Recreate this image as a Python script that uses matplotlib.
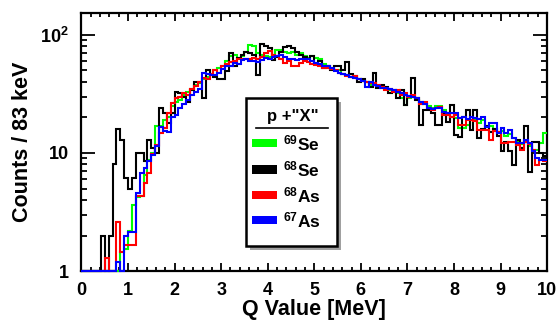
import numpy as np
import matplotlib
matplotlib.use("Agg")
import matplotlib.pyplot as plt
from matplotlib.patches import Rectangle
from matplotlib.lines import Line2D

plt.rcParams['font.family'] = ['Liberation Sans', 'DejaVu Sans']
plt.rcParams['font.weight'] = 'bold'
plt.rcParams['mathtext.fontset'] = 'custom'
plt.rcParams['mathtext.rm'] = 'Liberation Sans:bold'
plt.rcParams['mathtext.default'] = 'rm'

# 120 bins of 83 keV between 0 and 10 MeV
q_edges = np.linspace(0, 10, 121)

green_69se = [
    1, 1, 1, 1, 1, 1, 1, 1, 1, 1, 1.45, 1.55,
    2.2, 3.6, 4.2, 4.3, 6.5, 8.7, 10, 17, 17, 19, 20, 25,
    27, 28, 31, 33, 35, 38, 39, 42, 44, 47, 50, 52,
    54, 60, 66, 68, 64, 66, 72, 82, 80, 70, 68, 66,
    65, 68, 75, 74, 71, 70, 72, 68, 70, 66, 64, 66,
    64, 62, 57, 55, 52, 50, 50, 47, 46, 44, 43, 42,
    41, 40, 38, 38, 37, 36, 35, 34, 33, 32, 29, 25.6,
    29, 30, 29, 27, 26, 25, 24, 25, 25, 23, 22, 20,
    19.8, 16.2, 16.2, 17.3, 19, 19, 18, 19, 17, 17, 16, 15,
    15.5, 14, 14.5, 13.5, 12.5, 12, 12.5, 11.5, 10.6, 10.6, 12.2, 14.8,
]

black_68se = [
    1, 1, 1, 1, 1, 2, 1, 2, 8, 16, 12.9, 6.1,
    5.0, 6.1, 10, 10, 8.5, 13, 11, 10, 24, 22, 18, 22,
    33, 32, 30, 27, 34, 40, 40, 29, 50, 46, 44, 42,
    42, 49, 70, 55, 64, 68, 72, 70, 68, 46, 84, 80,
    78, 61, 65, 72, 79, 80, 78, 72, 68, 65, 63, 66,
    58, 60, 52, 55, 50, 54, 54, 50, 59, 47, 45, 40,
    42, 40, 36, 48, 35.5, 38, 36, 32, 34, 29, 34, 25.6,
    30, 43, 28, 17.3, 23, 23, 22, 17.3, 17.3, 21.8, 18.4, 25.6,
    14.2, 13.6, 20, 23, 15.6, 23, 13.4, 16, 17, 15, 16, 14,
    10.3, 12.5, 10.3, 7.9, 12.9, 11, 17, 6.9, 12.5, 12.5, 10, 9.5,
]

red_68as = [
    1, 1, 1, 1, 1, 1, 1.3, 1, 1, 2.6, 1.46, 1.66,
    1.66, 1.66, 4.3, 4.3, 5.6, 6.8, 9.8, 11.7, 14.8, 16.3, 21.8, 26.5,
    29, 30, 32, 31, 35, 37, 40, 43, 42, 47, 50, 48,
    55, 57, 59, 60, 62, 63, 63, 62, 64, 63, 65, 70,
    73, 68, 66, 62, 58, 60, 55, 54, 58, 60, 59, 57,
    56, 55, 52, 52, 51, 50, 48, 47, 45, 44, 45, 42,
    41, 40, 39, 39, 38, 36, 34, 35, 33, 34, 31, 32,
    30, 31, 29, 26, 27, 24, 23, 24, 24.7, 21, 21, 20,
    21, 17.3, 17.3, 19, 19.1, 18.5, 15.6, 15.6, 15.6, 12.9, 15.5, 15,
    12.2, 12.2, 12.5, 12.5, 11.7, 10.6, 12.5, 12, 10.6, 7.9, 8.7, 8.5,
]

blue_67as = [
    1, 1, 1, 1, 1, 1, 1, 1, 1, 1.2, 1, 2.0,
    2.15, 2.15, 4.6, 6.8, 7.5, 8.5, 9.7, 11.5, 16.5, 15.5, 15, 20,
    21, 24, 26, 28, 31, 33, 35, 48, 47, 46, 46, 48,
    51, 55, 54, 58, 57, 61, 62, 60, 60, 59, 61, 64,
    63, 65, 66, 67, 65, 62, 63, 61, 62, 63, 62, 60,
    58, 57, 55, 54, 52, 49, 48, 47, 46, 44, 43, 42,
    41, 36.5, 40, 38, 37, 35.5, 35.5, 35, 34, 33, 32, 31,
    30.5, 30, 29, 27, 26, 24, 23.5, 24, 24, 22.4, 22, 22,
    22, 19.8, 20, 19.5, 20, 19.8, 19.5, 20.3, 16.7, 18, 18, 14.8,
    16.2, 14.8, 15.6, 13.4, 12.2, 12.2, 12.9, 12.2, 10.3, 9.0, 8.7, 8.7,
]

series = [
    (green_69se, '#00ff00', '$^{69}$Se'),
    (black_68se, '#000000', '$^{68}$Se'),
    (red_68as, '#ff0000', '$^{68}$As'),
    (blue_67as, '#0000ff', '$^{67}$As'),
]

fig = plt.figure(figsize=(5.6, 3.27), dpi=100)
ax = fig.add_axes([0.1455, 0.171, 0.8315, 0.789])

for vals, col, lab in series:
    ax.stairs(vals, q_edges, baseline=None, color=col, lw=1.5,
              zorder=3, clip_on=False)

ax.set_yscale('log')
ax.set_xlim(0, 10)
ax.set_ylim(1, 153)
ax.set_xticks(range(11))
ax.set_xticks(np.arange(0, 10.01, 0.2), minor=True)
ax.set_yticks([1, 10, 100], ['1', '10', '$10^{2}$'])

for s in ax.spines.values():
    s.set_linewidth(1.6)
ax.tick_params(which='both', direction='in', top=True, right=True,
               width=1.3, labelsize=13)
ax.tick_params(axis='x', which='major', length=6, pad=8)
ax.tick_params(axis='x', which='minor', length=3)
ax.tick_params(axis='y', which='major', length=10, pad=9)
ax.tick_params(axis='y', which='minor', length=4.5)
ax.yaxis.set_minor_formatter(matplotlib.ticker.NullFormatter())

ax.set_xlabel('Q Value [MeV]', fontsize=15.5, fontweight='bold', labelpad=0)
ax.set_ylabel('Counts / 83 keV', fontsize=15.5, fontweight='bold', labelpad=5)

# hand-made ROOT style legend box with shadow
tr = ax.transAxes
ax.add_patch(Rectangle((0.362, 0.082), 0.196, 0.574, transform=tr,
                       facecolor='#a0a0a0', edgecolor='none', zorder=4,
                       clip_on=False))
ax.add_patch(Rectangle((0.353, 0.097), 0.196, 0.574, transform=tr,
                       facecolor='white', edgecolor='black', lw=1.8, zorder=5,
                       clip_on=False))
ax.text(0.454, 0.600, 'p +"X"', transform=tr, ha='center', va='center',
        fontsize=12, fontweight='bold', zorder=6)
ax.add_line(Line2D([0.374, 0.529], [0.554, 0.554], transform=tr,
                   color='black', lw=1.2, zorder=6))
row_y = [0.496, 0.395, 0.295, 0.198]
for (vals, col, lab), yy in zip(series, row_y):
    ax.add_patch(Rectangle((0.366, yy - 0.017), 0.053, 0.034, transform=tr,
                           facecolor=col, edgecolor='none', zorder=6))
    ax.text(0.432, yy, lab, transform=tr, ha='left', va='center',
            fontsize=12.5, fontweight='bold', zorder=6)

fig.savefig('out.png', dpi=100)
